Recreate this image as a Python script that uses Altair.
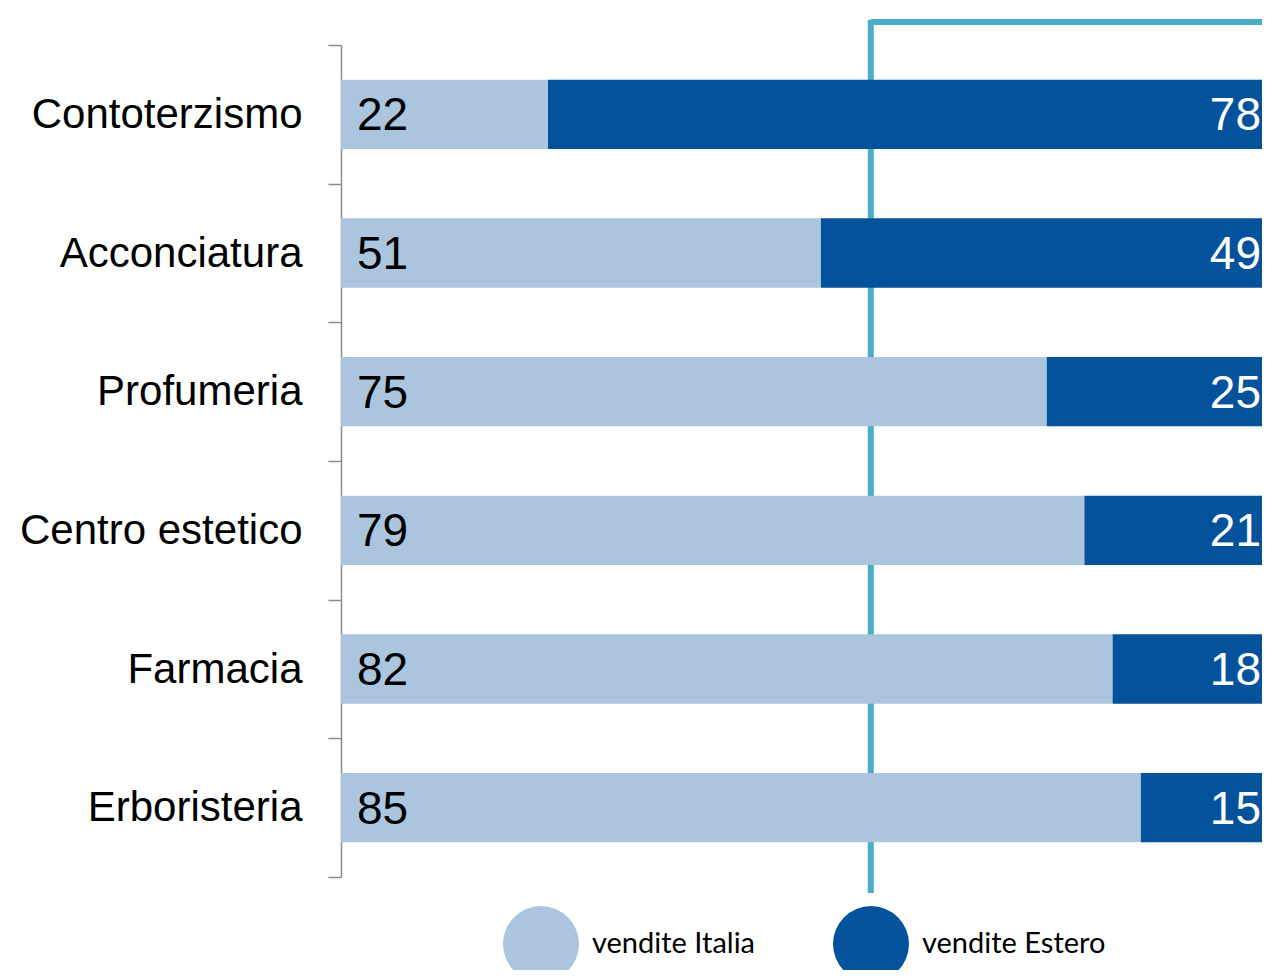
import altair as alt
import pandas as pd

categories = ["Contoterzismo", "Acconciatura", "Profumeria", "Centro estetico", "Farmacia", "Erboristeria"]
italia = [22, 51, 75, 79, 82, 85]
estero = [78, 49, 25, 21, 18, 15]
series_names = ["vendite Italia", "vendite Estero"]
colors = ["#ABC5DF", "#04529C"]
marker_value = 56.3  # teal reference line position (%)

PLOT_W = 921
FULL_W = 941  # width at which 100% is reached (bars run past the page edge)
xmax = 100 * PLOT_W / FULL_W

rows = []
for c, a, b in zip(categories, italia, estero):
    rows.append({"cat": c, "series": series_names[0], "value": a, "ord": 0})
    rows.append({"cat": c, "series": series_names[1], "value": b, "ord": 1})
df = pd.DataFrame(rows)

xscale = alt.Scale(domain=[0, xmax], nice=False, zero=True)
yscale = alt.Scale(paddingInner=0, paddingOuter=0)
yenc = alt.Y(
    "cat:N",
    sort=categories,
    scale=yscale,
    axis=alt.Axis(
        title=None,
        labelFont="Liberation Sans",
        labelFontSize=42,
        labelColor="#000000",
        labelPadding=26,
        tickSize=13,
        tickBand="extent",
        tickColor="#8c8c8c",
        tickWidth=1.5,
        domainColor="#8c8c8c",
        domainWidth=1.5,
        grid=False,
        labelLimit=400,
    ),
)

teal = "#4BACC6"
vline = alt.Chart(pd.DataFrame({"v": [marker_value]})).mark_rule(
    color=teal, strokeWidth=6
).encode(
    x=alt.X("v:Q", scale=xscale, axis=None),
    y=alt.value(-25),
    y2=alt.value(848),
)
hline = alt.Chart(pd.DataFrame({"v": [marker_value], "v2": [xmax]})).mark_rule(
    color=teal, strokeWidth=6
).encode(
    x=alt.X("v:Q", scale=xscale, axis=None),
    x2="v2:Q",
    y=alt.value(-23),
)

bars = alt.Chart(df).mark_bar(height={"band": 0.5}, clip=True).encode(
    x=alt.X("value:Q", stack="zero", scale=xscale, axis=None),
    y=yenc,
    color=alt.Color(
        "series:N",
        scale=alt.Scale(domain=series_names, range=colors),
        legend=alt.Legend(
            title=None,
            orient="none",
            legendX=162,
            legendY=861,
            direction="horizontal",
            symbolType="circle",
            symbolSize=5776,
            symbolStrokeWidth=0,
            symbolOpacity=1,
            labelFont="Lato",
            labelFontSize=29,
            labelColor="#000000",
            labelOffset=13,
            columnPadding=77,
            labelLimit=400,
        ),
    ),
    order=alt.Order("ord:Q"),
)

df_it = pd.DataFrame({"cat": categories, "value": italia, "start": [0] * len(categories)})
df_es = pd.DataFrame({"cat": categories, "value": estero, "end": [xmax] * len(categories)})

lab_it = alt.Chart(df_it).mark_text(
    align="left", baseline="middle", dx=16, dy=2, font="Liberation Sans", fontSize=46, color="#000000"
).encode(
    x=alt.X("start:Q", scale=xscale, axis=None),
    y=alt.Y("cat:N", sort=categories, scale=yscale),
    text="value:Q",
)
lab_es = alt.Chart(df_es).mark_text(
    align="right", baseline="middle", dx=-1, dy=2, font="Liberation Sans", fontSize=46, color="#ffffff"
).encode(
    x=alt.X("end:Q", scale=xscale, axis=None),
    y=alt.Y("cat:N", sort=categories, scale=yscale),
    text="value:Q",
)

chart = alt.layer(vline, hline, bars, lab_it, lab_es).properties(
    width=PLOT_W,
    height=832,
    autosize=alt.AutoSizeParams(type="none"),
    padding={"left": 333, "top": 37, "right": 0, "bottom": 93},
).configure_view(stroke=None)

chart.save("out.html", embed_options={"renderer": "svg", "actions": False})
